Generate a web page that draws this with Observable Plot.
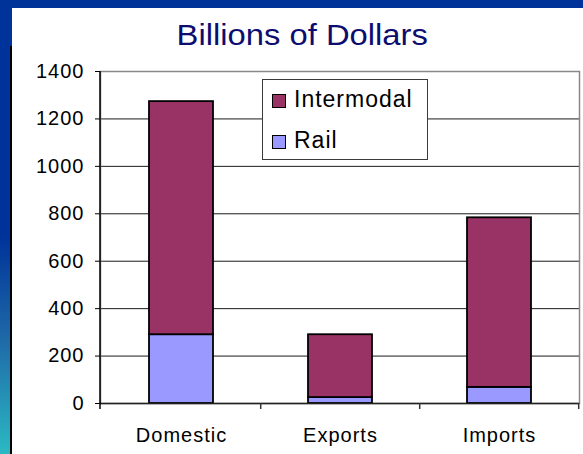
<!DOCTYPE html>
<html>
<head>
<meta charset="utf-8">
<script src="https://cdn.jsdelivr.net/npm/d3@7"></script>
<script src="https://cdn.jsdelivr.net/npm/@observablehq/plot@0.6"></script>
<style>
  html, body { margin: 0; padding: 0; }
  #page { position: relative; width: 583px; height: 454px; overflow: hidden; background: #003399; font-family: "Liberation Sans", Arial, sans-serif; }
  #leftband { position: absolute; left: 0; top: 0; width: 12px; height: 454px;
    background: linear-gradient(to bottom, #003399 0%, #003399 52%, #1f6aa8 75%, #2bb9c3 100%); }
  #white { position: absolute; left: 12px; top: 8px; width: 571px; height: 446px; background: #fff; }
  #blackline { position: absolute; left: 10px; top: 46px; width: 2px; height: 408px; background: #000; }
  #title { position: absolute; left: 0; width: 604px; top: 21px; text-align: center; font-size: 29px; line-height: 1; color: #0d0d70; }
  #title span { display: inline-block; transform: scaleX(1.13); }
  #chart { position: absolute; left: 0; top: 0; }
  #chart svg text { letter-spacing: 1px; }
  #legend { position: absolute; left: 262px; top: 79px; width: 164px; height: 79px; border: 1px solid #3a3a3a; background: #fff; }
  .item { position: absolute; left: 9px; font-size: 23px; letter-spacing: 1px; color: #000; line-height: 23px; white-space: nowrap; }
  .sw { display: inline-block; width: 12px; height: 12px; border: 1.5px solid #000; margin-right: 8px; vertical-align: -1px; }
</style>
</head>
<body>
<div id="page">
  <div id="leftband"></div>
  <div id="white"></div>
  <div id="blackline"></div>
  <div id="chart"></div>
  <div id="title"><span>Billions of Dollars</span></div>
  <div id="legend"></div>
</div>
<script>
const categories = ["Domestic", "Exports", "Imports"];
const rail = [290, 25, 68];
const intermodal = [983, 265, 715];
const seriesNames = ["Intermodal", "Rail"];
const seriesColors = ["#993366", "#9999ff"];
const yTicks = [0, 200, 400, 600, 800, 1000, 1200, 1400];

const data = [];
categories.forEach((c, i) => data.push({category: c, series: "Rail", value: rail[i]}));
categories.forEach((c, i) => data.push({category: c, series: "Intermodal", value: intermodal[i]}));

const chart = Plot.plot({
  width: 583,
  height: 454,
  marginLeft: 100,
  marginRight: 4,
  marginTop: 71,
  marginBottom: 51,
  style: {background: "transparent", fontFamily: "Liberation Sans, Arial, sans-serif", fontSize: "20px", color: "#000"},
  x: {domain: categories, paddingInner: 0.6, paddingOuter: 0.3, label: null},
  y: {domain: [0, 1400], label: null},
  color: {domain: seriesNames, range: seriesColors},
  marks: [
    Plot.ruleY(yTicks.filter(d => d > 0 && d < 1400), {stroke: "#1a1a1a", strokeWidth: 1}),
    Plot.frame({stroke: "#888", strokeWidth: 1.5}),
    Plot.barY(data, {x: "category", y: "value", fill: "series", stroke: "#000", strokeWidth: 1.8}),
    Plot.axisY({ticks: yTicks, tickFormat: d => String(d), tickSize: 5, tickPadding: 11, stroke: "#000", fill: "#000", fontSize: 20, label: null}),
    Plot.axisX({tickSize: 0, tickPadding: 24, fill: "#000", fontSize: 20, label: null}),
    Plot.ruleY([0], {stroke: "#222", strokeWidth: 1.5})
  ]
});
document.getElementById("chart").appendChild(chart);

// left axis line and category separator ticks derived from scales
const xs = chart.scale("x");
const ys = chart.scale("y");
const svg = d3.select(chart);
const step = xs.step;
const x0 = xs.range[0];
const y0 = ys.apply(0);
const yTop = ys.apply(1400);
svg.append("line").attr("x1", x0).attr("x2", x0).attr("y1", yTop).attr("y2", y0 + 6)
  .attr("stroke", "#000").attr("stroke-width", 1.5);
categories.forEach((c, i) => {
  const bx = xs.apply(c) + xs.bandwidth + step * xs.paddingInner / 2;
  svg.append("line").attr("x1", bx).attr("x2", bx).attr("y1", y0).attr("y2", y0 + 6)
    .attr("stroke", "#333").attr("stroke-width", 1.5);
});

// legend
const legend = document.getElementById("legend");
seriesNames.forEach((s, i) => {
  const el = document.createElement("div");
  el.className = "item";
  el.style.top = (i === 0 ? 8 : 49) + "px";
  el.innerHTML = `<span class="sw" style="background:${seriesColors[i]}"></span>${s}`;
  legend.appendChild(el);
});
</script>
</body>
</html>
